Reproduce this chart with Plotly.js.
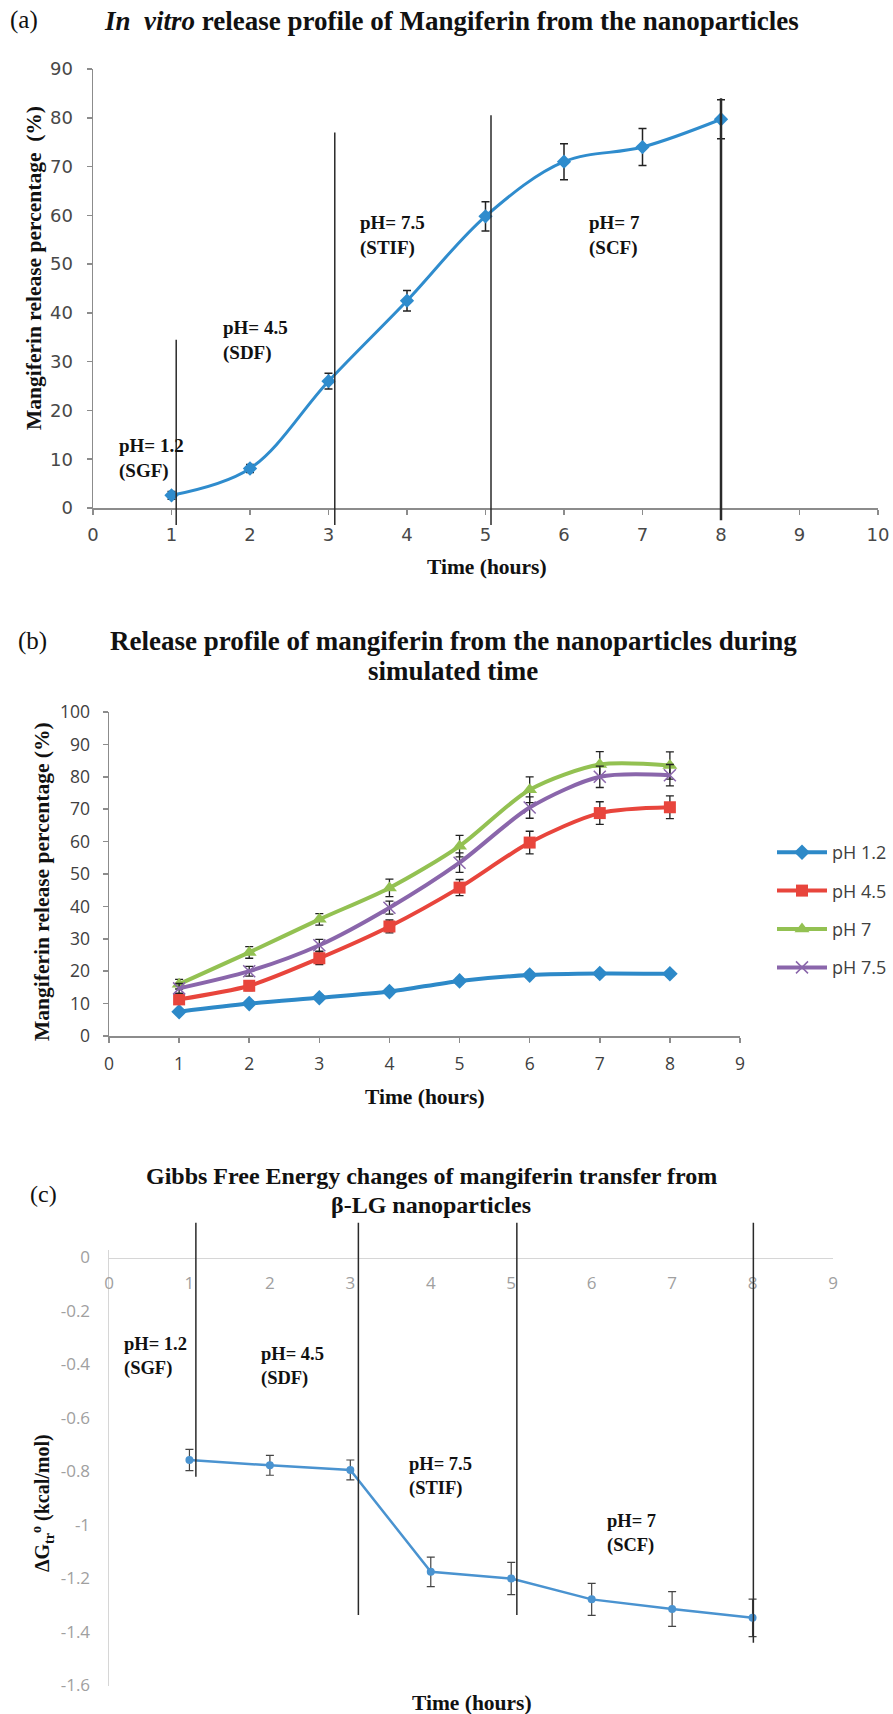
<!DOCTYPE html>
<html>
<head>
<meta charset="utf-8">
<script src="https://cdn.plot.ly/plotly-3.0.1.min.js"></script>
<style>
html,body{margin:0;padding:0;background:#fff;}
#chart{width:893px;height:1714px;}
</style>
</head>
<body>
<div id="chart"></div>
<script>
// ---------- DATA ----------
var hours = [1, 2, 3, 4, 5, 6, 7, 8];

// (a) in vitro release profile
var releaseA = [2.6, 8.1, 26, 42.5, 59.8, 71, 74, 79.7];
var errA = [0.8, 0.8, 1.6, 2.1, 3, 3.7, 3.8, 4];
var stageBoundA = [1.06, 3.08, 5.07, 8.0];
var stageTopA = [34.5, 77, 80.5, 84];
var stageBottomA = [-3.5, -3.5, -3.5, -2.5];

// (b) release at different pH
var seriesNamesB = ['pH 1.2', 'pH 4.5', 'pH 7', 'pH 7.5'];
var ph12 = [7.5, 10, 11.8, 13.7, 17, 18.8, 19.3, 19.2];
var ph12Err = [0.8, 0.8, 0.8, 0.8, 0.8, 0.8, 0.8, 0.8];
var ph45 = [11.3, 15.5, 24, 33.8, 45.8, 59.7, 68.8, 70.6];
var ph45Err = [1.5, 1.5, 2, 2, 2.5, 3.5, 3.5, 3.5];
var ph7 = [16, 25.8, 36, 45.7, 58.6, 76, 83.8, 83.5];
var ph7Err = [1.5, 1.8, 1.8, 2.7, 3.3, 4, 4, 4.2];
var ph75 = [14.7, 20, 28, 39.6, 53.5, 70.5, 80, 80.5];
var ph75Err = [1.5, 1.5, 1.8, 2, 3, 3.3, 3.3, 3.3];

// (c) Gibbs free energy of transfer
var dG = [-0.757, -0.777, -0.794, -1.175, -1.2, -1.278, -1.314, -1.347];
var dGErr = [0.04, 0.037, 0.037, 0.055, 0.06, 0.06, 0.065, 0.07];
var stageBoundC = [1.08, 3.1, 5.07, 8.01];
var stageTopC = [0.13, 0.13, 0.13, 0.13];
var stageBottomC = [-0.82, -1.336, -1.336, -1.44];
var yTicksC = [0, -0.2, -0.4, -0.6, -0.8, -1, -1.2, -1.4, -1.6];
var yTickTextC = ['0', '-0.2', '-0.4', '-0.6', '-0.8', '-1', '-1.2', '-1.4', '-1.6'];

// stage labels
var stageNames = ['pH= 1.2', 'pH= 4.5', 'pH= 7.5', 'pH= 7'];
var stageFluids = ['(SGF)', '(SDF)', '(STIF)', '(SCF)'];
var stageLabelXA = [0.30, 1.63, 3.37, 6.29];
var stageLabelYA = [10.2, 34.3, 55.9, 55.9];
var stageLabelXC = [0.16, 1.86, 3.70, 6.16];
var stageLabelYC = [-0.369, -0.408, -0.82, -1.033];

// ---------- HELPERS ----------
var W = 893, H = 1714;
function px(x) { return x / W; }
function py(y) { return 1 - y / H; }

var serif = 'Liberation Serif, Times New Roman, serif';
var blueA = '#2f8ccd';
var colorsB = ['#2d89c8', '#e8453c', '#93c152', '#8a66ab'];
var blueC = '#4a93d0';

var traces = [];
// (a)
traces.push({
  x: hours, y: releaseA, xaxis: 'x', yaxis: 'y', type: 'scatter', mode: 'lines+markers',
  line: {color: blueA, width: 3, shape: 'spline', smoothing: 1},
  marker: {symbol: 'diamond', size: 11, color: blueA},
  error_y: {type: 'data', array: errA, visible: true, color: '#222', thickness: 1.5, width: 4},
  showlegend: false
});
// (b)
var bData = [ph12, ph45, ph7, ph75];
var bErr = [ph12Err, ph45Err, ph7Err, ph75Err];
var bSym = ['diamond', 'square', 'triangle-up', 'x-thin'];
var bSize = [12, 12, 13, 12];
for (var i = 0; i < 4; i++) {
  var mk = {symbol: bSym[i], size: bSize[i], color: colorsB[i]};
  if (bSym[i] === 'x-thin') mk.line = {width: 1.5, color: colorsB[i]};
  traces.push({
    x: hours, y: bData[i], xaxis: 'x2', yaxis: 'y2', type: 'scatter', mode: 'lines+markers',
    name: seriesNamesB[i], legendgroup: 'g' + i,
    line: {color: colorsB[i], width: 4, shape: 'spline', smoothing: 0.8},
    marker: mk,
    error_y: {type: 'data', array: bErr[i], visible: true, color: '#222', thickness: 1.3, width: 4}
  });
}
// (c)
traces.push({
  x: hours, y: dG, xaxis: 'x3', yaxis: 'y3', type: 'scatter', mode: 'lines+markers',
  line: {color: blueC, width: 2.5},
  marker: {symbol: 'circle', size: 8, color: blueC},
  error_y: {type: 'data', array: dGErr, visible: true, color: '#444', thickness: 1.2, width: 4},
  showlegend: false
});

// ---------- SHAPES ----------
var shapes = [];
for (var k = 0; k < stageBoundA.length; k++) {
  shapes.push({type: 'line', xref: 'x', yref: 'y domain',
    x0: stageBoundA[k], x1: stageBoundA[k],
    y0: stageBottomA[k] / 90, y1: stageTopA[k] / 90,
    line: {color: '#2a2a2a', width: k === 3 ? 2.5 : 1.5}});
}
var rC = [-1.6, 0.03];
for (var k2 = 0; k2 < stageBoundC.length; k2++) {
  shapes.push({type: 'line', xref: 'x3', yref: 'y3 domain',
    x0: stageBoundC[k2], x1: stageBoundC[k2],
    y0: (stageBottomC[k2] - rC[0]) / (rC[1] - rC[0]), y1: (stageTopC[k2] - rC[0]) / (rC[1] - rC[0]),
    line: {color: '#2a2a2a', width: 1.5}});
}

// ---------- ANNOTATIONS ----------
var ann = [];
function addText(text, x, y, size, opts) {
  var a = {text: text, xref: 'paper', yref: 'paper', x: px(x), y: py(y), showarrow: false,
    xanchor: 'center', yanchor: 'middle', font: {family: serif, size: size, color: '#111'}};
  if (opts) for (var key in opts) a[key] = opts[key];
  ann.push(a);
}
// panel labels
addText('(a)', 24, 20, 25);
addText('(b)', 32, 641, 25);
addText('(c)', 43, 1194, 24);
// titles
addText('<b><i>In  vitro</i> release profile of Mangiferin from the nanoparticles</b>', 451, 21, 27);
addText('<b>Release profile of mangiferin from the nanoparticles during</b>', 453, 641, 27);
addText('<b>simulated time</b>', 453, 671, 27);
addText('<b>Gibbs Free Energy changes of mangiferin transfer from</b>', 431, 1176, 24);
addText('<b>β-LG nanoparticles</b>', 431, 1205, 24);
// axis titles
addText('<b>Time (hours)</b>', 487, 567, 21.5);
addText('<b>Time (hours)</b>', 425, 1097, 21.5);
addText('<b>Time (hours)</b>', 472, 1703, 21.5);
addText('<b>Mangiferin release percentage\u00a0\u00a0(%)</b>', 34, 268, 21.5, {textangle: -90});
addText('<b>Mangiferin release percentage (%)</b>', 42, 882, 21.5, {textangle: -90});
addText('<b>ΔG<sub>tr</sub><sup>o</sup> (kcal/mol)</b>', 43, 1503, 20, {textangle: -90});
// stage labels
for (var s = 0; s < 4; s++) {
  ann.push({text: '<b>' + stageNames[s] + '<br>' + stageFluids[s] + '</b>', xref: 'x', yref: 'y',
    x: stageLabelXA[s], y: stageLabelYA[s], showarrow: false, xanchor: 'left', yanchor: 'middle', align: 'left',
    font: {family: serif, size: 19, color: '#111'}});
  ann.push({text: '<b>' + stageNames[s] + '<br>' + stageFluids[s] + '</b>', xref: 'x3', yref: 'y3',
    x: stageLabelXC[s], y: stageLabelYC[s], showarrow: false, xanchor: 'left', yanchor: 'middle', align: 'left',
    font: {family: serif, size: 18.5, color: '#111'}});
}

var axisGray = '#8c8c8c';
var layout = {
  width: W, height: H,
  margin: {l: 0, r: 0, t: 0, b: 0},
  paper_bgcolor: '#fff', plot_bgcolor: 'rgba(0,0,0,0)',
  showlegend: true,
  legend: {x: px(772), y: py(834), xanchor: 'left', yanchor: 'top',
    font: {family: 'Open Sans, sans-serif', size: 18, color: '#404040'},
    tracegroupgap: 12, itemwidth: 50, bgcolor: 'rgba(0,0,0,0)'},
  // (a)
  xaxis: {domain: [px(93), px(878)], anchor: 'y', range: [0, 10], dtick: 1, tick0: 0,
    showgrid: false, zeroline: false, showline: true, linecolor: axisGray, linewidth: 1.5,
    ticks: 'outside', ticklen: 5, tickcolor: axisGray, tickwidth: 1.5, ticklabelstandoff: 5,
    tickfont: {family: 'DejaVu Sans, sans-serif', size: 18, color: '#484848'}, fixedrange: true},
  yaxis: {domain: [py(508), py(69)], anchor: 'x', range: [0, 90], dtick: 10,
    showgrid: false, zeroline: false, showline: true, linecolor: axisGray, linewidth: 1.5,
    ticks: 'outside', ticklen: 5, tickcolor: axisGray, tickwidth: 1.5, ticklabelstandoff: 10,
    tickfont: {family: 'DejaVu Sans, sans-serif', size: 18, color: '#484848'}, fixedrange: true},
  // (b)
  xaxis2: {domain: [px(109), px(740)], anchor: 'y2', range: [0, 9], dtick: 1, tick0: 0,
    showgrid: false, zeroline: false, showline: true, linecolor: axisGray, linewidth: 1.5,
    ticks: 'outside', ticklen: 5, tickcolor: axisGray, tickwidth: 1.5, ticklabelstandoff: 6,
    tickfont: {family: 'Open Sans, sans-serif', size: 17.5, color: '#404040'}, fixedrange: true},
  yaxis2: {domain: [py(1036), py(712)], anchor: 'x2', range: [0, 100], dtick: 10,
    showgrid: false, zeroline: false, showline: true, linecolor: axisGray, linewidth: 1.5,
    ticks: 'outside', ticklen: 5, tickcolor: axisGray, tickwidth: 1.5, ticklabelstandoff: 9,
    tickfont: {family: 'Open Sans, sans-serif', size: 17.5, color: '#404040'}, fixedrange: true},
  // (c)
  xaxis3: {domain: [px(109), px(833)], anchor: 'free', position: py(1257.5), range: [0, 9], dtick: 1, tick0: 0,
    showgrid: false, zeroline: false, showline: true, linecolor: '#d6d6d6', linewidth: 1.5,
    ticks: 'outside', ticklen: 10, tickcolor: 'rgba(0,0,0,0)',
    tickfont: {family: 'Open Sans, sans-serif', size: 17, color: '#a0a0a0'}, fixedrange: true},
  yaxis3: {domain: [py(1685.5), py(1249.5)], anchor: 'x3', range: rC,
    tickvals: yTicksC, ticktext: yTickTextC,
    showgrid: false, zeroline: false, showline: true, linecolor: '#d6d6d6', linewidth: 1.5,
    ticks: 'outside', ticklen: 14, tickcolor: 'rgba(0,0,0,0)',
    tickfont: {family: 'Open Sans, sans-serif', size: 17, color: '#a0a0a0'}, fixedrange: true},
  shapes: shapes,
  annotations: ann
};

Plotly.newPlot('chart', traces, layout, {staticPlot: true, displayModeBar: false});
</script>
</body>
</html>
